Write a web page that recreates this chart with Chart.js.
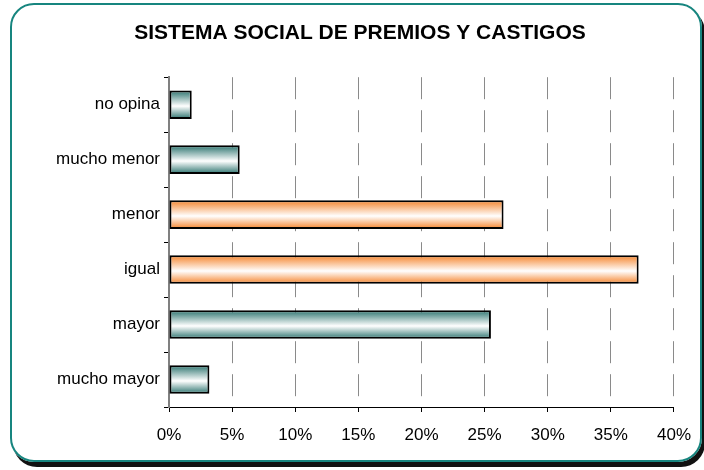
<!DOCTYPE html>
<html>
<head>
<meta charset="utf-8">
<script src="https://cdn.jsdelivr.net/npm/chart.js@4"></script>
<style>
  html, body { margin: 0; padding: 0; background: #fff; }
  #wrap { position: relative; width: 704px; height: 470px; }
  #frame {
    position: absolute; left: 10px; top: 3px; width: 688px; height: 455px;
    border: 2px solid #17857f; border-radius: 24px;
    box-shadow: 3px 5px 0 #111;
  }
  #chart { position: absolute; left: 0; top: 0; }
</style>
</head>
<body>
<div id="wrap">
  <div id="frame"></div>
  <canvas id="chart" width="704" height="470"></canvas>
</div>
<script>
'use strict';

// data (percent)
const categories = ['no opina', 'mucho menor', 'menor', 'igual', 'mayor', 'mucho mayor'];
const values = [1.8, 5.6, 26.5, 37.2, 25.5, 3.2];
const barKinds = ['teal', 'teal', 'orange', 'orange', 'teal', 'teal'];
const xTicks = [0, 5, 10, 15, 20, 25, 30, 35, 40];

const edgeColors = { teal: '#2a726d', orange: '#f5832a' };
const barPct = 0.52;

function barFill(ctx) {
  let chart = ctx.chart;
  let yScale = chart.scales.y;
  let kind = barKinds[ctx.dataIndex];
  if (!yScale || !chart.chartArea) return edgeColors[kind];
  let center = yScale.getPixelForValue(ctx.dataIndex);
  let half = (yScale.height / categories.length) * barPct / 2;
  let g = chart.ctx.createLinearGradient(0, center - half, 0, center + half);
  g.addColorStop(0, edgeColors[kind]);
  g.addColorStop(0.55, '#ffffff');
  g.addColorStop(1, edgeColors[kind]);
  return g;
}

let canvasElem = document.getElementById('chart');

const myChart = new Chart(canvasElem, {
  type: 'bar',
  data: {
    labels: categories,
    datasets: [{
      data: values,
      backgroundColor: barFill,
      borderColor: '#000',
      borderWidth: 2,
      borderSkipped: false,
      barPercentage: barPct,
      categoryPercentage: 1
    }]
  },
  options: {
    indexAxis: 'y',
    responsive: false,
    animation: false,
    layout: { padding: { left: 45, right: 29, top: 21, bottom: 22 } },
    plugins: {
      legend: { display: false },
      tooltip: { enabled: false },
      title: {
        display: true,
        text: 'SISTEMA SOCIAL DE PREMIOS Y CASTIGOS',
        color: '#000',
        font: { family: 'Liberation Sans, Arial, sans-serif', size: 21, weight: 'bold' },
        padding: { top: 0, bottom: 31 }
      }
    },
    scales: {
      x: {
        min: 0,
        max: 40,
        afterBuildTicks: s => { s.ticks = xTicks.map(v => ({ value: v })); },
        afterFit: s => { s.height = 41; },
        ticks: {
          color: '#000',
          padding: 13,
          font: { family: 'Liberation Sans, Arial, sans-serif', size: 17 },
          callback: v => v + '%'
        },
        grid: {
          color: '#8a8a8a',
          lineWidth: 1,
          tickLength: 5,
          tickColor: '#000',
          tickBorderDash: []
        },
        border: { display: true, color: '#000', width: 1, dash: [22, 11] }
      },
      y: {
        afterFit: s => { s.width = 124; },
        ticks: {
          color: '#000',
          padding: 4,
          font: { family: 'Liberation Sans, Arial, sans-serif', size: 17 }
        },
        grid: {
          drawOnChartArea: false,
          tickLength: 5,
          tickColor: '#000'
        },
        border: { display: true, color: '#808080', width: 2 }
      }
    }
  }
});
</script>
</body>
</html>
